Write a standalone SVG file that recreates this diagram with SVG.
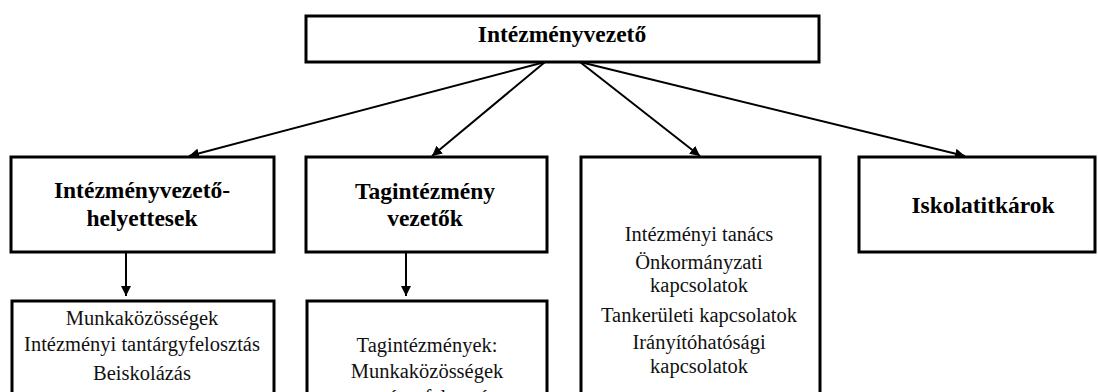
<svg xmlns="http://www.w3.org/2000/svg" width="1098" height="392" viewBox="0 0 1098 392">
<style>
.box{fill:#fff;stroke:#000;stroke-width:3}
.h{font-family:'Liberation Serif','Tinos','DejaVu Serif',serif;font-weight:bold;font-size:23.5px;text-anchor:middle;fill:#000}
.t{font-family:'Liberation Serif','Tinos','DejaVu Serif',serif;font-size:20.5px;text-anchor:middle;fill:#111}
.c{stroke:#000;stroke-width:2;fill:none;marker-end:url(#ah)}
</style>
<defs>
<marker id="ah" viewBox="0 0 10 10" refX="10" refY="5" markerWidth="5" markerHeight="5" orient="auto" markerUnits="strokeWidth">
<path d="M0,0 L10,5 L0,10 z" fill="#000"/>
</marker>
</defs>
<rect width="1098" height="392" fill="#fff"/>
<g id="connectors">
<line class="c" x1="545" y1="62" x2="189" y2="156"/>
<line class="c" x1="545" y1="62" x2="432" y2="156"/>
<line class="c" x1="580" y1="62" x2="700" y2="156"/>
<line class="c" x1="580" y1="62" x2="965" y2="156"/>
<line class="c" x1="126" y1="253" x2="126" y2="296"/>
<line class="c" x1="406" y1="253" x2="406" y2="296"/>
</g>
<g id="n-intezmenyvezeto">
<rect class="box" x="306" y="16" width="513" height="46"/>
<text class="h" x="562" y="42">Intézményvezető</text>
</g>
<g id="n-helyettesek">
<rect class="box" x="11" y="157" width="263" height="95"/>
<text class="h" x="142" y="198">Intézményvezető-</text>
<text class="h" x="142" y="226">helyettesek</text>
</g>
<g id="n-tagintezmeny">
<rect class="box" x="306" y="157" width="241" height="95"/>
<text class="h" x="425" y="199">Tagintézmény</text>
<text class="h" x="425" y="226">vezetők</text>
</g>
<g id="n-kapcsolatok">
<rect class="box" x="581" y="157" width="239" height="250"/>
<text class="t" x="699" y="241">Intézményi tanács</text>
<text class="t" x="699" y="269">Önkormányzati</text>
<text class="t" x="699" y="292">kapcsolatok</text>
<text class="t" x="699" y="322">Tankerületi kapcsolatok</text>
<text class="t" x="699" y="349">Irányítóhatósági</text>
<text class="t" x="699" y="373">kapcsolatok</text>
</g>
<g id="n-iskolatitkarok">
<rect class="box" x="859" y="157" width="236" height="95"/>
<text class="h" x="983" y="213">Iskolatitkárok</text>
</g>
<g id="n-munkakozossegek">
<rect class="box" x="12" y="301" width="262" height="110"/>
<text class="t" x="142" y="325">Munkaközösségek</text>
<text class="t" x="142" y="351">Intézményi tantárgyfelosztás</text>
<text class="t" x="142" y="380">Beiskolázás</text>
</g>
<g id="n-tagintezmenyek">
<rect class="box" x="307" y="301" width="240" height="110"/>
<text class="t" x="427" y="352">Tagintézmények:</text>
<text class="t" x="427" y="378">Munkaközösségek</text>
<text class="t" x="427" y="404">tantárgyfelosztás</text>
</g>
</svg>
